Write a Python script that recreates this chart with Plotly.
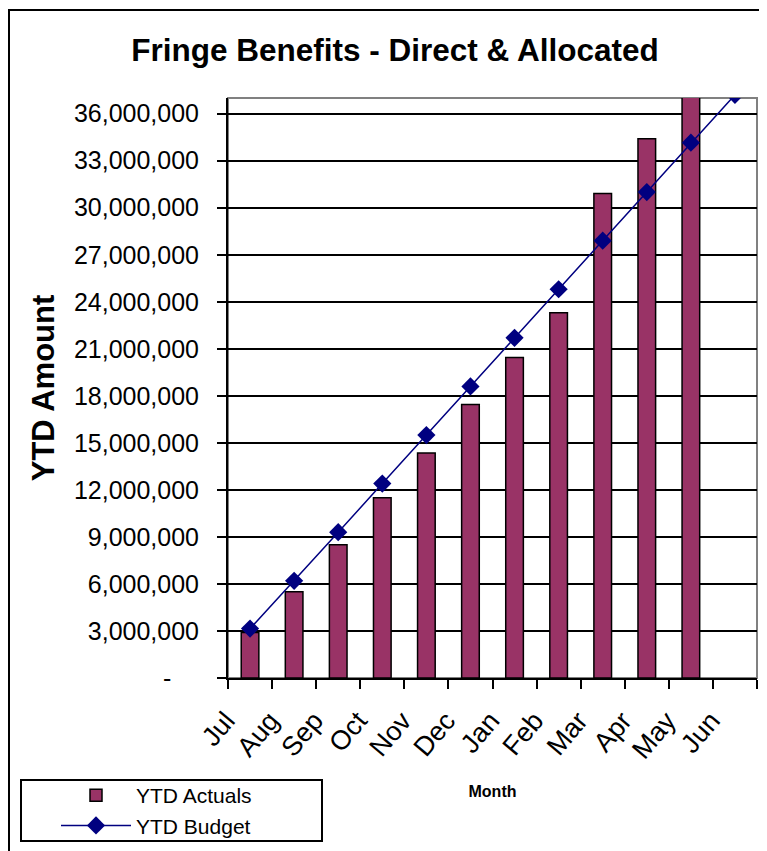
import plotly.graph_objects as go

months = ["Jul", "Aug", "Sep", "Oct", "Nov", "Dec", "Jan", "Feb", "Mar", "Apr", "May", "Jun"]
ytd_actuals = [2900000, 5500000, 8500000, 11500000, 14350000, 17450000, 20450000, 23300000, 30900000, 34400000, 37650000, None]
ytd_budget = [3150000, 6200000, 9300000, 12400000, 15500000, 18600000, 21700000, 24800000, 27900000, 31000000, 34150000, 37200000]
y_tick_vals = [0, 3000000, 6000000, 9000000, 12000000, 15000000, 18000000, 21000000, 24000000, 27000000, 30000000, 33000000, 36000000]
y_tick_text = ["-\u00a0\u00a0\u00a0\u00a0", "3,000,000", "6,000,000", "9,000,000", "12,000,000", "15,000,000", "18,000,000",
               "21,000,000", "24,000,000", "27,000,000", "30,000,000", "33,000,000", "36,000,000"]

BASE = "Liberation Sans, Arial, sans-serif"

fig = go.Figure()
fig.add_trace(go.Bar(
    x=months, y=ytd_actuals, name="YTD Actuals",
    marker=dict(color="#993366", line=dict(color="#000000", width=1.5)),
))
fig.add_trace(go.Scatter(
    x=months, y=ytd_budget, name="YTD Budget", mode="lines+markers",
    line=dict(color="#000080", width=1.5),
    marker=dict(symbol="diamond", size=14, color="#000080"),
))

OFF = 8  # page body margin
W, H = 767 - OFF, 851 - OFF
# plot area in reference (page) pixels
PL, PR, PT, PB = 228, 757, 98, 678
L, T = PL - OFF, PT - OFF
R, B = W - (PR - OFF), H - (PB - OFF)
pw, ph = PR - PL, PB - PT

def px(x):
    return (x - PL) / pw

def py(y):
    return (PB - y) / ph

fig.update_layout(
    width=W, height=H,
    margin=dict(l=L, r=R, t=T, b=B, autoexpand=False),
    paper_bgcolor="white", plot_bgcolor="white",
    bargap=0.6,
    font=dict(family=BASE, color="#000000", size=24),
    title=dict(text="<b>Fringe Benefits - Direct &amp; Allocated</b>",
               font=dict(family=BASE, size=31.5, color="#000000"),
               x=(395 - OFF) / W, xanchor="center", xref="container",
               y=1 - (50 - OFF) / H, yanchor="middle", yref="container"),
    xaxis=dict(
        type="category", range=[-0.5, len(months) - 0.5],
        tickson="boundaries", ticks="outside", ticklen=9, tickwidth=2, tickcolor="#000",
        showline=True, linecolor="#000", linewidth=2, showgrid=False,
        tickangle=-50, tickfont=dict(size=27, family=BASE),
        ticklabelstandoff=14, ticklabelshift=-24,
        title=dict(text="<b>Month</b>", font=dict(size=16, family=BASE), standoff=22),
    ),
    yaxis=dict(
        range=[0, 37000000], tickvals=y_tick_vals, ticktext=y_tick_text,
        ticks="outside", ticklen=9, tickwidth=2, tickcolor="#000",
        showline=True, linecolor="#000", linewidth=2,
        showgrid=True, gridcolor="#000", gridwidth=2, zeroline=False,
        tickfont=dict(size=25, family=BASE), ticklabelstandoff=13,
        title=dict(text="<b>YTD Amount</b>", font=dict(size=31, family=BASE), standoff=10),
    ),
    legend=dict(
        x=px(21), y=py(775), xanchor="left", yanchor="top",
        borderwidth=0, bgcolor="rgba(0,0,0,0)",
        font=dict(size=21, family=BASE), tracegroupgap=0,
        itemwidth=70, indentation=35,
    ),
    showlegend=True,
    shapes=[
        dict(type="rect", xref="paper", yref="paper", x0=0, x1=1, y0=0, y1=1,
             line=dict(color="#808080", width=2), layer="below"),
        dict(type="rect", xref="paper", yref="paper", x0=px(9), x1=px(790), y0=py(880), y1=py(10),
             line=dict(color="#000", width=2), layer="below"),
        # legend frame
        dict(type="rect", xref="paper", yref="paper", x0=px(21), x1=px(322), y0=py(841), y1=py(780),
             line=dict(color="#000", width=2), fillcolor="white", layer="below"),
    ],
)

fig.write_html("out.html")
